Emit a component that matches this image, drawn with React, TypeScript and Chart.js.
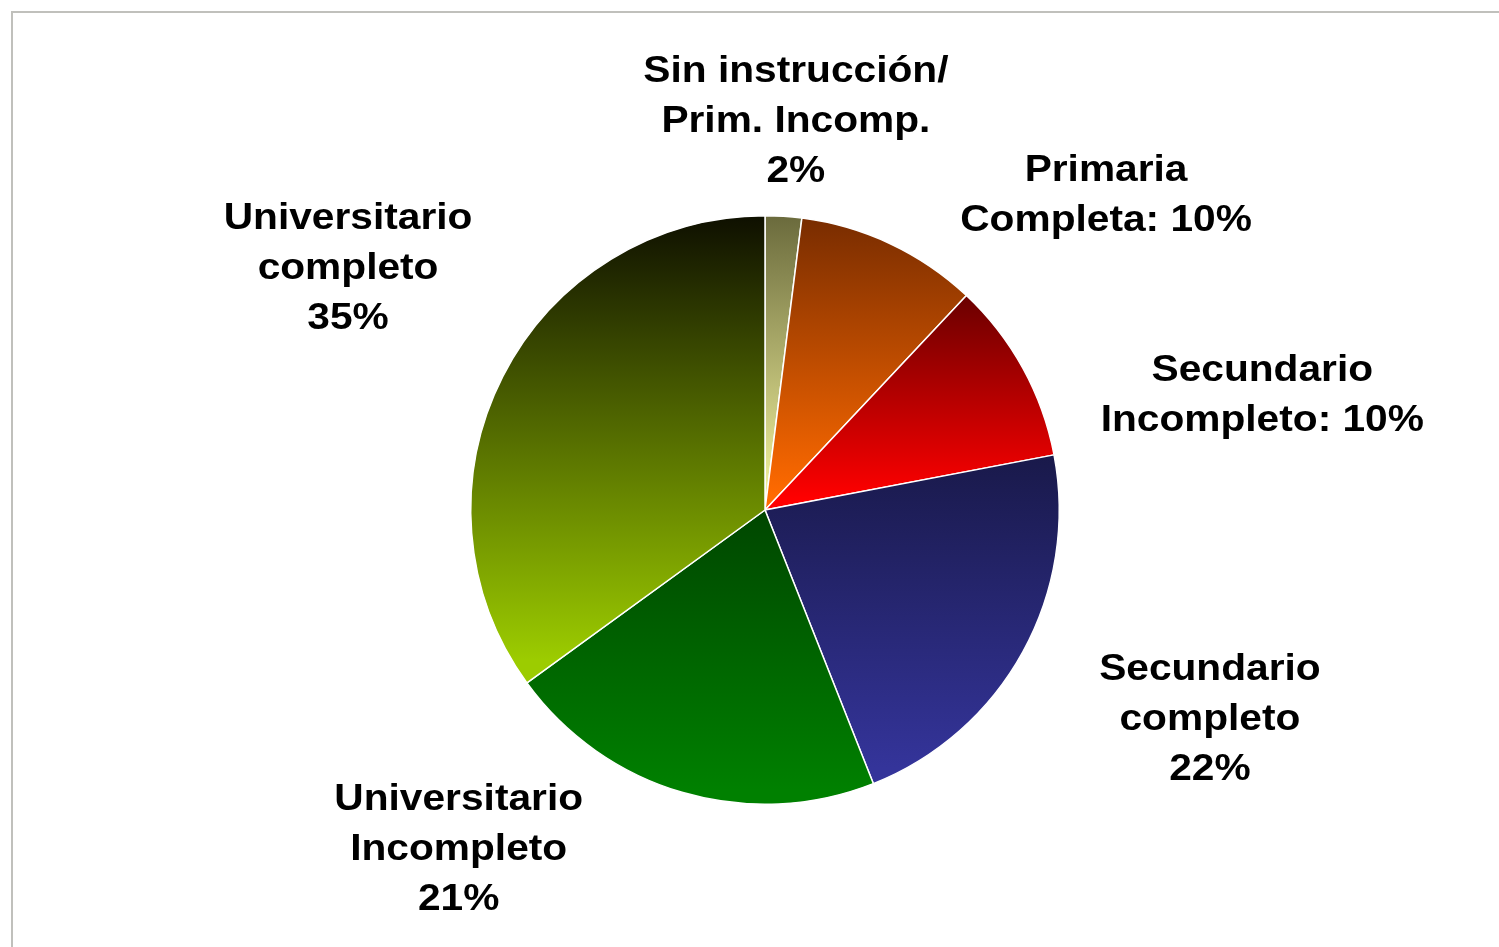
import React, { useEffect, useRef } from "react";
import { Chart, registerables } from "chart.js";

Chart.register(...registerables);

// ---- Data ----
const categories = [
  "Sin instrucción/\nPrim. Incomp.",
  "Primaria\nCompleta",
  "Secundario\nIncompleto",
  "Secundario\ncompleto",
  "Universitario\nIncompleto",
  "Universitario\ncompleto",
];
const values = [2, 10, 10, 22, 21, 35];
// separator between the category text and the percentage
const pctSeparators = ["\n", ": ", ": ", "\n", "\n", "\n"];

// ---- Styles ----
const topColors = ["#6a6a3c", "#782c00", "#6a0000", "#19194a", "#004600", "#0e0f00"];
const bottomColors = ["#f2f29c", "#ff6a00", "#ff0000", "#34349a", "#008000", "#9ccc00"];
// label anchor offsets, in units of the pie radius, from the pie centre (middle line baseline)
const labelOffsetsX = [0.105, 1.159, 1.69, 1.512, -1.041, -1.417];
const labelOffsetsY = [-1.285, -1.034, -0.352, 0.746, 1.19, -0.786];

const LINE_H = 50;
const FONT = 'bold 36px "Liberation Sans", Arial, sans-serif';
const X_STRETCH = 1.13;

function sliceGradient(context: any) {
  const chart = context.chart;
  const area = chart.chartArea;
  const i = context.dataIndex;
  if (!area || i === undefined) return bottomColors[i ?? 0];
  const cx = (area.left + area.right) / 2;
  const cy = (area.top + area.bottom) / 2;
  const r = Math.min(area.right - area.left, area.bottom - area.top) / 2;
  const total = values.reduce((a, b) => a + b, 0);
  let before = 0;
  for (let k = 0; k < i; k++) before += values[k];
  const a0 = -Math.PI / 2 + (before / total) * Math.PI * 2;
  const a1 = a0 + (values[i] / total) * Math.PI * 2;
  const ys = [cy, cy + r * Math.sin(a0), cy + r * Math.sin(a1)];
  for (const k of [-Math.PI / 2, Math.PI / 2, (3 * Math.PI) / 2]) {
    if (k >= a0 - 1e-9 && k <= a1 + 1e-9) ys.push(cy + r * Math.sin(k));
  }
  const yTop = Math.min(...ys);
  const yBot = Math.max(...ys);
  const g = chart.ctx.createLinearGradient(0, yTop, 0, yBot);
  g.addColorStop(0, topColors[i]);
  g.addColorStop(0.95, bottomColors[i]);
  g.addColorStop(1, bottomColors[i]);
  return g;
}

const labelPlugin = {
  id: "outerLabels",
  afterDatasetsDraw(chart: any) {
    const meta = chart.getDatasetMeta(0);
    const ctx = chart.ctx;
    const total = values.reduce((a, b) => a + b, 0);
    ctx.save();
    ctx.font = FONT;
    ctx.fillStyle = "#000000";
    ctx.textAlign = "center";
    ctx.textBaseline = "alphabetic";
    meta.data.forEach((arc: any, i: number) => {
      const { x, y, outerRadius } = arc.getProps(["x", "y", "outerRadius"], true);
      const pct = Math.round((values[i] / total) * 100) + "%";
      const text = categories[i] + pctSeparators[i] + pct;
      const lines = text.split("\n");
      const ax = x + labelOffsetsX[i] * outerRadius;
      const ay = y + labelOffsetsY[i] * outerRadius;
      lines.forEach((line, li) => {
        const by = ay + (li - (lines.length - 1) / 2) * LINE_H;
        ctx.save();
        ctx.translate(ax, by);
        ctx.scale(X_STRETCH, 1);
        ctx.fillText(line, 0, 0);
        ctx.restore();
      });
    });
    ctx.restore();
  },
};

export default function App() {
  const canvasRef = useRef<HTMLCanvasElement | null>(null);

  useEffect(() => {
    if (!canvasRef.current) return;
    const chart = new Chart(canvasRef.current, {
      type: "pie",
      data: {
        labels: categories.map((c) => c.replace("\n", " ")),
        datasets: [
          {
            data: values,
            backgroundColor: sliceGradient as any,
            borderColor: "#ffffff",
            borderWidth: 1.5,
          },
        ],
      },
      options: {
        responsive: false,
        animation: false,
        devicePixelRatio: 1,
        layout: { padding: { top: 215, bottom: 142, left: 470, right: 439 } },
        plugins: {
          legend: { display: false },
          tooltip: { enabled: false },
          title: { display: false },
        },
      },
      plugins: [labelPlugin],
    });
    return () => chart.destroy();
  }, []);

  return (
    <div
      style={{
        position: "fixed",
        left: 0,
        top: 0,
        width: 1499,
        height: 947,
        overflow: "hidden",
        background: "#ffffff",
      }}
    >
      <div
        style={{
          position: "absolute",
          left: 11,
          top: 11,
          width: 1700,
          height: 1200,
          border: "2px solid #c0c0bc",
          boxSizing: "border-box",
        }}
      />
      <canvas
        ref={canvasRef}
        width={1499}
        height={947}
        style={{ position: "absolute", left: 0, top: 0, width: 1499, height: 947 }}
      />
    </div>
  );
}
